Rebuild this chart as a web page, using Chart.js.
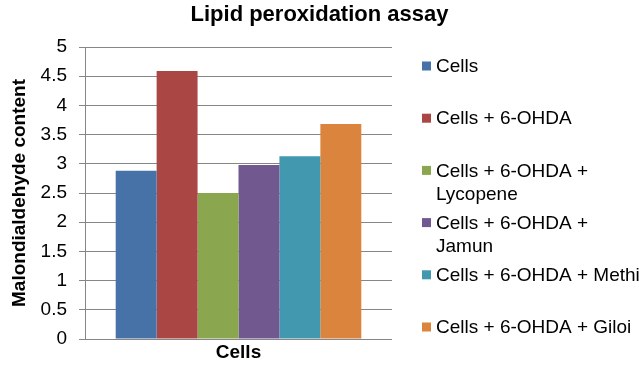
<!DOCTYPE html>
<html>
<head>
  <meta charset="UTF-8">
  <title>Lipid peroxidation assay</title>
  <script src="https://cdn.jsdelivr.net/npm/chart.js"></script>
  <style>
    body { margin: 0; background: #fff; }
  </style>
</head>
<body>
  <canvas id="lipidChart" width="639" height="365"></canvas>
  <script>
    // data
    const categories = ['Cells'];
    const seriesNames = [
      ['Cells'],
      ['Cells + 6-OHDA'],
      ['Cells + 6-OHDA +', 'Lycopene'],
      ['Cells + 6-OHDA +', 'Jamun'],
      ['Cells + 6-OHDA + Methi'],
      ['Cells + 6-OHDA + Giloi']
    ];
    const seriesValues = [2.88, 4.59, 2.5, 2.98, 3.13, 3.68];
    const seriesColors = ['#4672A8', '#AA4644', '#8AA64F', '#71588F', '#4298AF', '#DB843D'];

    const FONT = '"Liberation Sans", Arial, sans-serif';

    // legend on the right, Excel style (some entries wrap onto two lines)
    const sideLegend = {
      id: 'sideLegend',
      afterDraw(chart) {
        const ctx = chart.ctx;
        const x0 = chart.chartArea.right + 30;
        ctx.save();
        ctx.font = '19px ' + FONT;
        ctx.textBaseline = 'middle';
        seriesNames.forEach((lines, i) => {
          const y = 66 + i * 52.2;
          ctx.fillStyle = seriesColors[i];
          ctx.fillRect(x0, y - 4.5, 9, 9);
          ctx.fillStyle = '#000';
          lines.forEach((t, j) => ctx.fillText(t, x0 + 14, y + 1 + j * 23));
        });
        ctx.restore();
      }
    };

    const ctx = document.getElementById('lipidChart').getContext('2d');
    new Chart(ctx, {
      type: 'bar',
      data: {
        labels: categories,
        datasets: seriesNames.map((name, i) => ({
          label: name.join(' '),
          data: [seriesValues[i]],
          backgroundColor: seriesColors[i],
          borderWidth: 0
        }))
      },
      options: {
        responsive: false,
        animation: false,
        layout: { padding: 0 },
        datasets: { bar: { barPercentage: 1, categoryPercentage: 0.8 } },
        plugins: {
          legend: { display: false },
          tooltip: { enabled: false },
          title: {
            display: true,
            text: 'Lipid peroxidation assay',
            color: '#000',
            font: { family: FONT, size: 22, weight: 'bold' },
            padding: { top: 1.5, bottom: 19.1 }
          }
        },
        scales: {
          x: {
            grid: { display: false, drawTicks: false },
            border: { display: false },
            ticks: { color: '#000', font: { family: FONT, size: 19, weight: 'bold' }, padding: 2 },
            afterFit(scale) { scale.height = 26; }
          },
          y: {
            min: 0,
            max: 5,
            ticks: {
              stepSize: 0.5,
              color: '#000',
              font: { family: FONT, size: 19 },
              padding: 12,
              callback: v => String(v)
            },
            grid: { color: '#868686', tickLength: 6 },
            border: { color: '#868686' },
            title: {
              display: true,
              text: 'Malondialdehyde content',
              color: '#000',
              font: { family: FONT, size: 19, weight: 'bold' },
              padding: { top: 8, bottom: 0 }
            },
            afterFit(scale) { scale.width = 85; }
          },
          // empty axis that only keeps room for the legend on the right
          legendSpace: {
            type: 'linear',
            position: 'right',
            min: 0,
            max: 1,
            grid: { display: false },
            border: { display: false },
            ticks: { display: false },
            afterFit(scale) { scale.width = 247; }
          }
        }
      },
      plugins: [sideLegend]
    });
  </script>
</body>
</html>
